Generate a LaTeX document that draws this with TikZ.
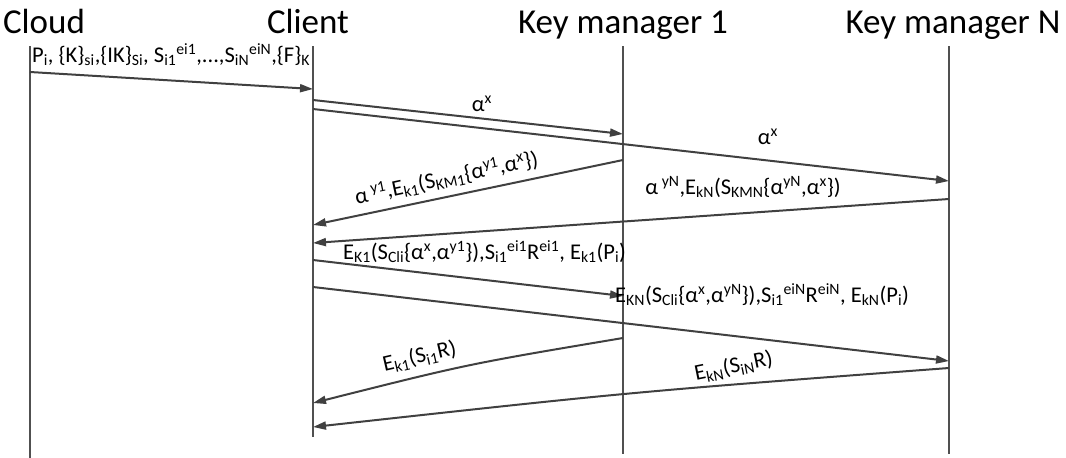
\documentclass[tikz,border=0pt]{standalone}
\usepackage{fontspec}
\setmainfont{Carlito}
\usetikzlibrary{arrows.meta}
\definecolor{lifegray}{HTML}{505050}
\definecolor{arrgray}{HTML}{404040}
\newcommand\mydn[1]{\textsubscript{#1}}
\newcommand\myup[1]{\textsuperscript{#1}}
\begin{document}
\begin{tikzpicture}[x=1pt,y=-1pt,
  life/.style={draw=lifegray,line width=2pt},
  msg/.style={draw=arrgray,line width=2pt,-{Triangle[length=13pt,width=8pt]}},
  title/.style={font=\fontsize{35}{40}\selectfont,anchor=base,inner sep=0pt},
  lbl/.style={font=\fontsize{22.5}{26}\selectfont,inner sep=0pt}]
\useasboundingbox (0,0) rectangle (1066,458);
% titles
\node[title] (tcloud) at (44,33) {Cloud};
\node[title] (tclient) at (308,33) {Client};
\node[title] (tkm1) at (623,33) {Key manager 1};
\node[title] (tkmn) at (953,33) {Key manager N};
% lifelines
\coordinate (cloudT) at (30,46);   \coordinate (cloudB) at (30,458);
\coordinate (cliT) at (313,46);    \coordinate (cliB) at (313,437);
\coordinate (kmaT) at (623,46);    \coordinate (kmaB) at (623,454);
\coordinate (kmnT) at (949,46);    \coordinate (kmnB) at (949,454);
\draw[life] (cloudT) -- (cloudB);
\draw[life] (cliT) -- (cliB);
\draw[life] (kmaT) -- (kmaB);
\draw[life] (kmnT) -- (kmnB);
% message end points
\coordinate (m1s) at (30,72);   \coordinate (m1e) at (313,89);
\coordinate (m2s) at (313,100); \coordinate (m2e) at (623,134);
\coordinate (m3s) at (313,109); \coordinate (m3e) at (949,181);
\coordinate (m4s) at (623,160); \coordinate (m4e) at (313,225);
\coordinate (m5s) at (949,199); \coordinate (m5e) at (313,243);
\coordinate (m6s) at (313,260); \coordinate (m6e) at (623,296);
\coordinate (m7s) at (313,287); \coordinate (m7e) at (949,361);
\coordinate (m8s) at (623,338); \coordinate (m8e) at (313,403);
\coordinate (m9s) at (949,368); \coordinate (m9e) at (313,427);
\draw[msg] (m1s) -- (m1e);
\draw[msg] (m2s) -- (m2e);
\draw[msg] (m3s) -- (m3e);
\draw[msg] (m4s) -- (m4e);
\draw[msg] (m5s) -- (m5e);
\draw[msg] (m6s) -- (m6e);
\draw[msg] (m7s) -- (m7e);
\draw[msg] (m8s) .. controls (468,364) .. (m8e);
\draw[msg] (m9s) .. controls (631,392) .. (m9e);
% labels
\node[lbl,anchor=base west] (l1) at (32,62) {P\mydn{i}, \{K\}\mydn{si},\{IK\}\mydn{Si}, S\mydn{i1}\myup{ei1},...,S\mydn{iN}\myup{eiN},\{F\}\mydn{K}};
\node[lbl,anchor=base] (l2) at (482,111) {α\myup{x}};
\node[lbl,anchor=base] (l3) at (768,144) {α\myup{x}};
\node[lbl,anchor=base,rotate=12] (l4) at (448,185) {α\,\myup{y1},E\mydn{k1}(S\mydn{KM1}\{α\myup{y1},α\myup{x}\})};
\node[lbl,anchor=base] (l5) at (743,194) {α\,\myup{yN},E\mydn{kN}(S\mydn{KMN}\{α\myup{yN},α\myup{x}\})};
\node[lbl,anchor=base west] (l6) at (343,259) {E\mydn{K1}(S\mydn{Cli}\{α\myup{x},α\myup{y1}\}),S\mydn{i1}\myup{ei1}R\myup{ei1}, E\mydn{k1}(P\mydn{i})};
\node[lbl,anchor=base west] (l7) at (615,302) {E\mydn{KN}(S\mydn{Cli}\{α\myup{x},α\myup{yN}\}),S\mydn{i1}\myup{eiN}R\myup{eiN}, E\mydn{kN}(P\mydn{i})};
\node[lbl,anchor=base,rotate=13] (l8) at (421,363) {E\mydn{k1}(S\mydn{i1}R)};
\node[lbl,anchor=base,rotate=11.5] (l9) at (735,373) {E\mydn{kN}(S\mydn{iN}R)};
\end{tikzpicture}
\end{document}
